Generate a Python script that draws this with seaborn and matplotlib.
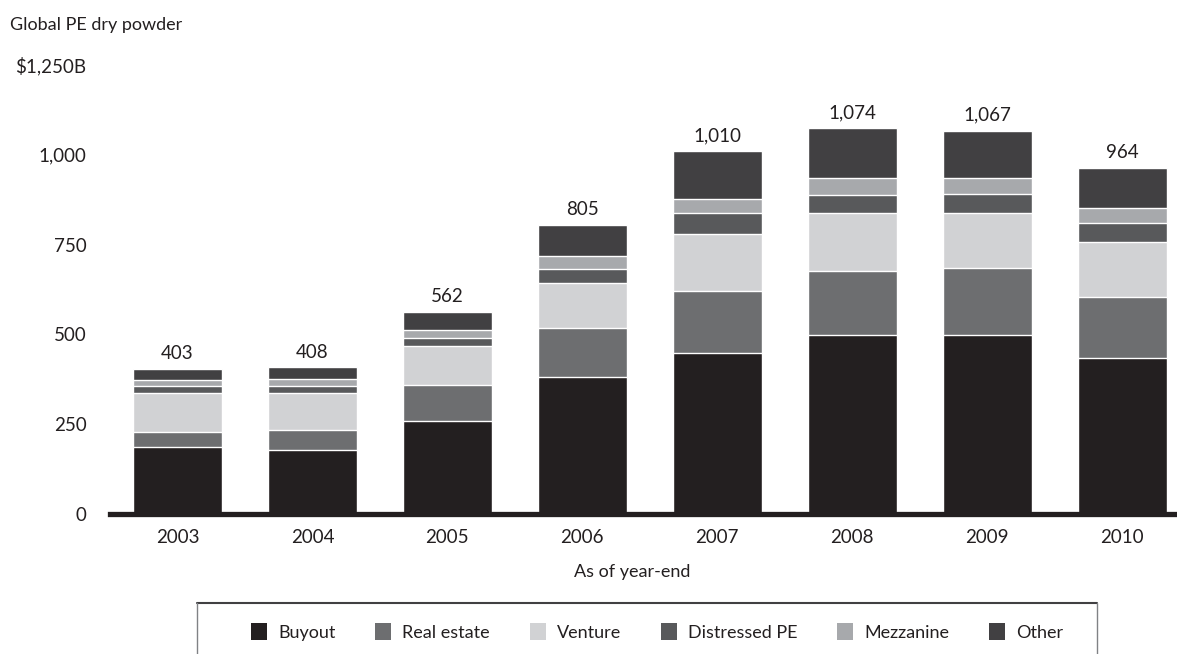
import matplotlib
matplotlib.use("Agg")
import matplotlib.pyplot as plt
import matplotlib.patches as mpatches
from matplotlib.lines import Line2D
import numpy as np
import pandas as pd
import seaborn as sns

years = ["2003", "2004", "2005", "2006", "2007", "2008", "2009", "2010"]
buyout = [186, 178, 260, 381, 448, 499, 499, 435]
real_estate = [42, 56, 98, 136, 174, 177, 185, 169]
venture = [108, 103, 111, 127, 158, 162, 155, 152]
distressed = [21, 20, 20, 39, 59, 51, 53, 53]
mezzanine = [16, 18, 23, 36, 38, 46, 43, 43]
other = [30, 33, 50, 86, 133, 139, 132, 112]
totals = [403, 408, 562, 805, 1010, 1074, 1067, 964]

series_names = ["Buyout", "Real estate", "Venture", "Distressed PE", "Mezzanine", "Other"]
series_vals = [buyout, real_estate, venture, distressed, mezzanine, other]
colors = ["#231f20", "#6d6e70", "#d1d2d4", "#58595b", "#a7a9ac", "#414042"]

yticks = [0, 250, 500, 750, 1000, 1250]
ytick_labels = ["0", "250", "500", "750", "1,000", "$1,250B"]

sns.set_theme(style="white")
plt.rcParams["font.family"] = ["Lato", "DejaVu Sans"]
text_color = "#231f20"

fig = plt.figure(figsize=(11.77, 6.54), dpi=100)
ax = fig.add_axes([110 / 1177, 1 - 514 / 654, 1 - 110 / 1177, (514 - 65) / 654])

cum = np.cumsum(np.array(series_vals), axis=0)
df = pd.DataFrame({"year": years})
for i in range(len(series_names) - 1, -1, -1):
    df["v"] = cum[i]
    sns.barplot(data=df, x="year", y="v", order=years, color=colors[i],
                width=0.66, edgecolor="white", linewidth=1.0, saturation=1,
                ax=ax, errorbar=None)

for i, t in enumerate(totals):
    ax.annotate(f"{t:,}", xy=(i, t), xytext=(0, 5), textcoords="offset points",
                ha="center", va="bottom", fontsize=13.5, color=text_color)

ax.set_xlim(-0.5, 7.407)
ax.set_ylim(0, 1250)
ax.set_yticks(yticks)
ax.set_yticklabels(ytick_labels)
ax.set_xlabel("")
ax.set_ylabel("")
for s in ["top", "right", "left"]:
    ax.spines[s].set_visible(False)
ax.spines["bottom"].set_linewidth(3.8)
ax.spines["bottom"].set_color(text_color)
ax.tick_params(axis="y", length=0, pad=17, labelsize=13.5, labelcolor=text_color)
ax.tick_params(axis="x", length=0, pad=11, labelsize=13.5, labelcolor=text_color)
ax.grid(False)

fig.text(10 / 1177, 1 - 25 / 654, "Global PE dry powder", fontsize=13,
         color=text_color, va="center", ha="left")
fig.text(632 / 1177, 1 - 572 / 654, "As of year-end", fontsize=13,
         color=text_color, va="center", ha="center")

# legend box
x0, x1 = 197 / 1177, 1097 / 1177
ytop = 1 - 603 / 654
fig.add_artist(Line2D([x0, x1], [ytop, ytop], transform=fig.transFigure,
                      color="#414042", lw=1.5))
fig.add_artist(Line2D([x0, x0], [ytop, -0.01], transform=fig.transFigure,
                      color="#808285", lw=1.0))
fig.add_artist(Line2D([x1, x1], [ytop, -0.01], transform=fig.transFigure,
                      color="#808285", lw=1.0))

handles = [mpatches.Patch(facecolor=c, edgecolor="none", label=n)
           for c, n in zip(colors, series_names)]
fig.legend(handles=handles, loc="center", bbox_to_anchor=(657 / 1177, 1 - 632 / 654),
           ncol=6, frameon=False, fontsize=13, handlelength=0.9, handleheight=1.0,
           handletextpad=0.6, columnspacing=2.2, labelcolor=text_color)

fig.savefig("out.png", dpi=100)
